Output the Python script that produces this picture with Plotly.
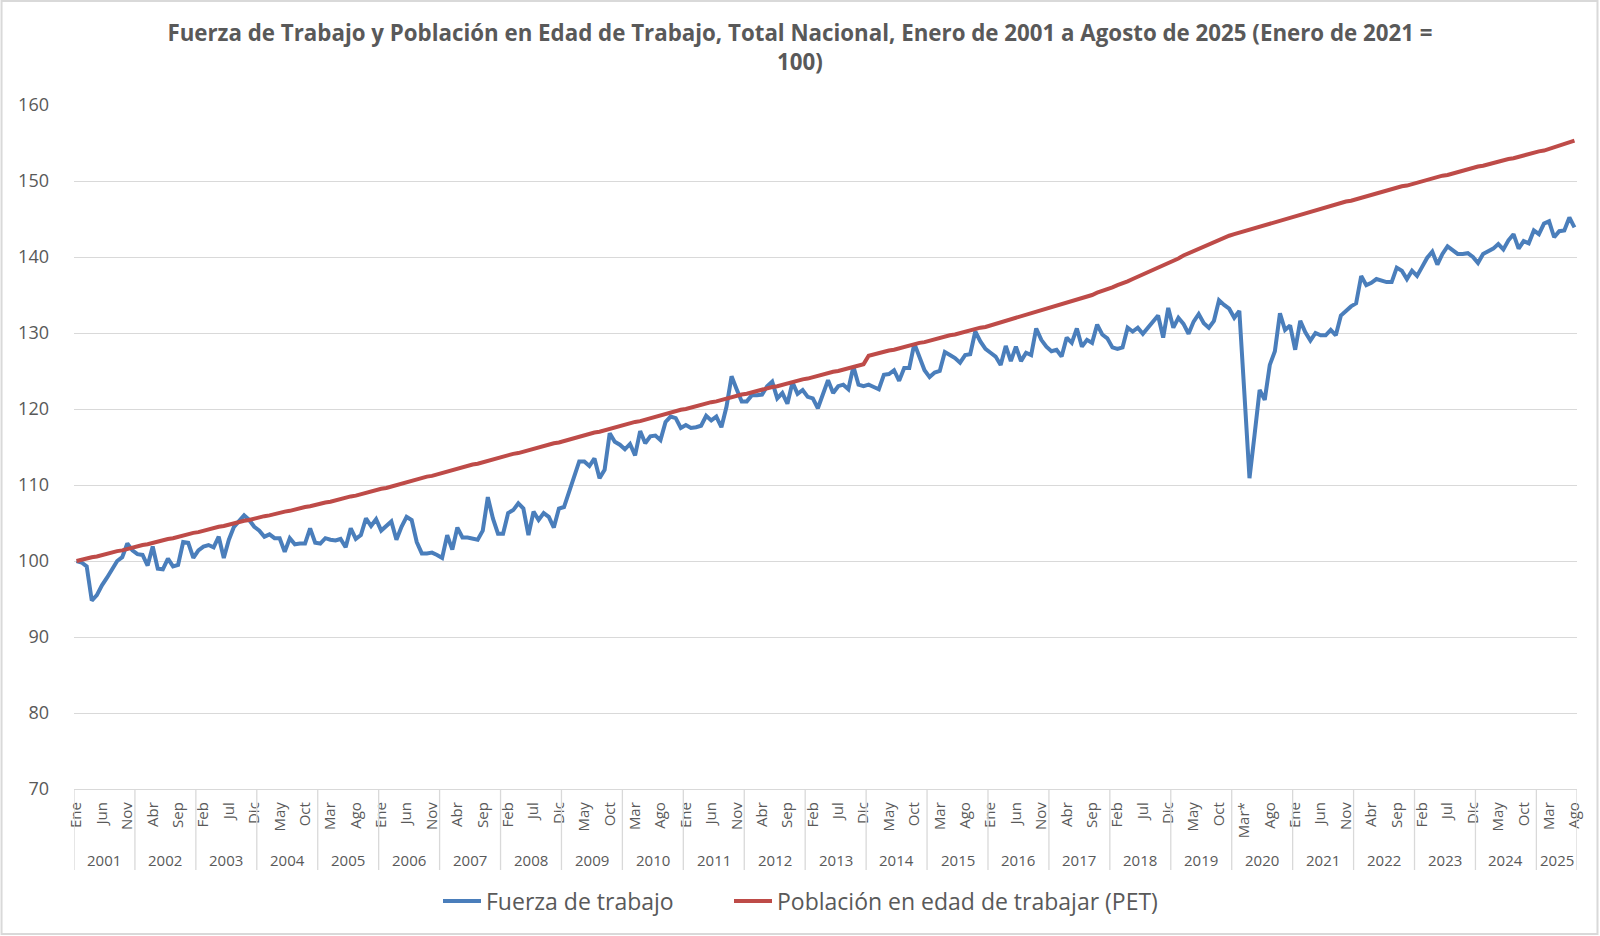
import plotly.graph_objects as go

# ---------------- DATA ----------------
years = list(range(2001, 2026))
tick_labels = (["Ene", "Jun", "Nov", "Abr", "Sep", "Feb", "Jul", "Dic", "May", "Oct", "Mar", "Ago"] * 5)
tick_labels[46] = "Mar*"  # marzo 2020

fuerza_trabajo = [
    # 2001
    100.0, 99.8, 99.3, 94.8, 95.5, 96.8, 97.8, 98.8, 100.0, 100.5, 102.3, 101.4,
    # 2002
    100.9, 100.8, 99.4, 101.9, 99.0, 98.9, 100.3, 99.3, 99.5, 102.5, 102.4, 100.4,
    # 2003
    101.4, 101.9, 102.1, 101.8, 103.2, 100.4, 102.8, 104.5, 105.3, 106.0, 105.4, 104.5,
    # 2004
    104.0, 103.2, 103.5, 103.0, 103.0, 101.2, 103.0, 102.2, 102.3, 102.3, 104.3, 102.4,
    # 2005
    102.3, 103.0, 102.8, 102.7, 102.9, 101.8, 104.3, 102.9, 103.4, 105.6, 104.6, 105.5,
    # 2006
    104.0, 104.6, 105.2, 102.8, 104.5, 105.8, 105.4, 102.5, 101.0, 101.0, 101.1, 100.8,
    # 2007
    100.4, 103.4, 101.5, 104.4, 103.1, 103.1, 103.0, 102.8, 104.0, 108.4, 105.6, 103.6,
    # 2008
    103.6, 106.3, 106.7, 107.6, 106.9, 103.4, 106.5, 105.4, 106.3, 105.8, 104.4, 106.9,
    # 2009
    107.1, 109.1, 110.9, 113.1, 113.1, 112.5, 113.5, 110.9, 112.0, 116.8, 115.7, 115.3,
    # 2010
    114.7, 115.4, 113.9, 117.1, 115.5, 116.4, 116.5, 115.9, 118.3, 119.0, 118.8, 117.5,
    # 2011
    117.9, 117.5, 117.6, 117.8, 119.1, 118.5, 119.0, 117.6, 120.3, 124.3, 122.6, 121.0,
    # 2012
    121.0, 121.8, 121.8, 121.9, 123.0, 123.6, 121.4, 122.1, 120.7, 123.5, 122.0, 122.5,
    # 2013
    121.6, 121.4, 120.1, 122.1, 123.8, 122.1, 123.0, 123.2, 122.6, 125.6, 123.2, 123.0,
    # 2014
    123.2, 122.9, 122.6, 124.5, 124.6, 125.1, 123.7, 125.4, 125.4, 128.6, 126.7, 125.1,
    # 2015
    124.2, 124.8, 125.0, 127.5, 127.1, 126.7, 126.1, 127.1, 127.2, 130.2, 128.9, 127.9,
    # 2016
    127.4, 126.9, 125.8, 128.3, 126.3, 128.2, 126.3, 127.4, 127.1, 130.6, 129.1, 128.2,
    # 2017
    127.6, 127.8, 126.9, 129.4, 128.7, 130.6, 128.2, 129.1, 128.7, 131.1, 129.8, 129.3,
    # 2018
    128.1, 127.9, 128.1, 130.7, 130.2, 130.7, 129.9, 130.7, 131.3, 132.3, 129.4, 133.3,
    # 2019
    130.7, 132.0, 131.2, 129.9, 131.5, 132.5, 131.3, 130.7, 131.6, 134.3, 133.7, 133.2,
    # 2020
    132.0, 132.9, 122.0, 110.9, 116.6, 122.5, 121.2, 125.8, 127.6, 132.6, 130.4, 131.0,
    # 2021
    127.8, 131.6, 130.1, 129.0, 130.0, 129.7, 129.7, 130.4, 129.7, 132.3, 132.9, 133.5,
    # 2022
    133.9, 137.5, 136.3, 136.6, 137.1, 136.9, 136.7, 136.7, 138.6, 138.2, 137.1, 138.2,
    # 2023
    137.5, 138.7, 139.9, 140.7, 139.0, 140.4, 141.4, 140.9, 140.4, 140.4, 140.5, 140.0,
    # 2024
    139.2, 140.4, 140.8, 141.1, 141.7, 141.0, 142.2, 143.0, 141.1, 142.1, 141.8, 143.5,
    # 2025
    143.0, 144.4, 144.7, 142.6, 143.4, 143.5, 145.2, 143.9,
]

pet = [
    # 2001
    100.0, 100.2, 100.3, 100.5, 100.6, 100.8, 101.0, 101.1, 101.3, 101.4, 101.6, 101.8,
    # 2002
    101.9, 102.1, 102.2, 102.4, 102.6, 102.7, 102.9, 103.0, 103.2, 103.4, 103.5, 103.7,
    # 2003
    103.8, 104.0, 104.2, 104.3, 104.5, 104.6, 104.8, 105.0, 105.1, 105.3, 105.4, 105.6,
    # 2004
    105.7, 105.9, 106.0, 106.2, 106.3, 106.5, 106.6, 106.8, 106.9, 107.1, 107.2, 107.4,
    # 2005
    107.5, 107.7, 107.8, 108.0, 108.1, 108.3, 108.5, 108.6, 108.8, 109.0, 109.1, 109.3,
    # 2006
    109.5, 109.6, 109.8, 110.0, 110.2, 110.4, 110.5, 110.7, 110.9, 111.1, 111.2, 111.4,
    # 2007
    111.6, 111.8, 112.0, 112.1, 112.3, 112.5, 112.7, 112.8, 113.0, 113.2, 113.4, 113.5,
    # 2008
    113.7, 113.9, 114.1, 114.2, 114.4, 114.6, 114.8, 114.9, 115.1, 115.3, 115.5, 115.6,
    # 2009
    115.8, 116.0, 116.2, 116.3, 116.5, 116.7, 116.9, 117.0, 117.2, 117.4, 117.6, 117.7,
    # 2010
    117.9, 118.1, 118.3, 118.4, 118.6, 118.8, 119.0, 119.1, 119.3, 119.5, 119.7, 119.9,
    # 2011
    120.0, 120.2, 120.4, 120.5, 120.7, 120.9, 121.0, 121.2, 121.4, 121.5, 121.7, 121.9,
    # 2012
    122.0, 122.2, 122.4, 122.5, 122.7, 122.9, 123.0, 123.2, 123.4, 123.5, 123.7, 123.9,
    # 2013
    124.0, 124.2, 124.4, 124.5, 124.7, 124.9, 125.0, 125.2, 125.4, 125.5, 125.7, 125.9,
    # 2014
    127.0, 127.2, 127.3, 127.5, 127.7, 127.8, 128.0, 128.2, 128.3, 128.5, 128.7, 128.8,
    # 2015
    129.0, 129.2, 129.3, 129.5, 129.7, 129.8, 130.0, 130.2, 130.3, 130.5, 130.7, 130.8,
    # 2016
    131.0, 131.2, 131.4, 131.6, 131.8, 132.0, 132.2, 132.4, 132.5, 132.7, 132.9, 133.1,
    # 2017
    133.3, 133.5, 133.7, 133.9, 134.1, 134.3, 134.6, 134.8, 135.0, 135.3, 135.5, 135.8,
    # 2018
    136.0, 136.3, 136.5, 136.8, 137.1, 137.4, 137.7, 138.0, 138.2, 138.5, 138.8, 139.1,
    # 2019
    139.5, 139.8, 140.2, 140.5, 140.8, 141.1, 141.4, 141.7, 142.0, 142.3, 142.6, 142.8,
    # 2020
    143.0, 143.2, 143.4, 143.6, 143.8, 144.0, 144.2, 144.4, 144.6, 144.8, 145.0, 145.2,
    # 2021
    145.4, 145.6, 145.8, 146.0, 146.2, 146.4, 146.5, 146.7, 146.9, 147.1, 147.3, 147.4,
    # 2022
    147.6, 147.8, 148.0, 148.2, 148.4, 148.5, 148.7, 148.9, 149.1, 149.3, 149.4, 149.6,
    # 2023
    149.8, 150.0, 150.1, 150.3, 150.5, 150.7, 150.8, 151.0, 151.2, 151.3, 151.5, 151.7,
    # 2024
    151.9, 152.0, 152.2, 152.4, 152.5, 152.7, 152.9, 153.0, 153.2, 153.4, 153.5, 153.7,
    # 2025
    153.9, 154.0, 154.2, 154.4, 154.6, 154.8, 155.0, 155.3,
]

title_text = ("Fuerza de Trabajo y Población en Edad de Trabajo, Total Nacional, Enero de 2001 a Agosto de 2025 (Enero de 2021 ="
              "<br>100)")
series_names = ["Fuerza de trabajo", "Población en edad de trabajar (PET)"]

# ---------------- STYLE ----------------
FONT = "Open Sans"
GRAY_TXT = "#595959"
GRID = "#D9D9D9"
BLUE = "#4A7EBB"
RED = "#BE4B48"

n = len(fuerza_trabajo)
x = list(range(n))

fig = go.Figure()
fig.add_trace(go.Scatter(x=x, y=fuerza_trabajo, mode="lines", name=series_names[0],
                         line=dict(color=BLUE, width=4), legend="legend"))
fig.add_trace(go.Scatter(x=x, y=pet, mode="lines", name=series_names[1],
                         line=dict(color=RED, width=4), legend="legend2"))

W, H = 1600, 936
ml, mr, mt, mb = 73.5, 22.5, 105, 147
plot_h = H - mt - mb

# year dividers and year labels
shapes = []
annotations = []
div_bottom = -(870 - (H - mb)) / plot_h
for k, yr in enumerate(years):
    start = 12 * k - 0.5
    end = min(12 * k + 11.5, n - 0.5)
    shapes.append(dict(type="line", xref="x", yref="paper", x0=start, x1=start,
                       y0=0, y1=div_bottom, line=dict(color=GRID, width=1.3)))
    annotations.append(dict(x=(start + end) / 2, xref="x", y=-(860 - (H - mb)) / plot_h,
                            yref="paper", text=str(yr), showarrow=False,
                            font=dict(family=FONT, size=15, color=GRAY_TXT),
                            xanchor="center", yanchor="middle"))
shapes.append(dict(type="line", xref="x", yref="paper", x0=n - 0.5, x1=n - 0.5,
                   y0=0, y1=div_bottom, line=dict(color=GRID, width=1.3)))

# outer chart border
shapes.append(dict(type="rect", xref="paper", yref="paper",
                   x0=(1 - ml) / (W - ml - mr), x1=(W - 2 - ml) / (W - ml - mr),
                   y0=(H - mb - (H - 2)) / plot_h, y1=(H - mb - 1) / plot_h,
                   line=dict(color=GRID, width=2), layer="below"))

legend_common = dict(orientation="h", xref="container", xanchor="left",
                     y=1 - 901 / H, yref="container", yanchor="middle",
                     font=dict(family=FONT, size=23, color=GRAY_TXT),
                     itemwidth=38, bgcolor="rgba(0,0,0,0)")

fig.update_layout(
    width=W, height=H,
    margin=dict(l=ml, r=mr, t=mt, b=mb, pad=0),
    paper_bgcolor="white", plot_bgcolor="white",
    font=dict(family=FONT, color=GRAY_TXT),
    title=dict(text=title_text, x=0.5, xref="container", xanchor="center",
               y=1 - 41 / H, yref="container", yanchor="top",
               font=dict(family=FONT, size=22.3, color=GRAY_TXT, weight="bold")),
    xaxis=dict(range=[-0.5, n - 0.5], tickmode="array",
               tickvals=list(range(0, n, 5)), ticktext=tick_labels[:len(range(0, n, 5))],
               tickangle=-90, tickfont=dict(family=FONT, size=15, color=GRAY_TXT),
               showgrid=False, zeroline=False, showline=True, linecolor=GRID, linewidth=1.3,
               ticks="", ticklabelstandoff=6, fixedrange=True),
    yaxis=dict(range=[70, 160], dtick=10, tick0=70, showgrid=True, gridcolor=GRID, gridwidth=1.3,
               zeroline=False, showline=False, ticks="",
               tickfont=dict(family=FONT, size=18, color=GRAY_TXT), ticklabelstandoff=24,
               fixedrange=True),
    legend=dict(x=438 / W, **legend_common),
    legend2=dict(x=729 / W, **legend_common),
    shapes=shapes,
    annotations=annotations,
    showlegend=True,
)

fig.write_html("out.html", config={"displayModeBar": False},
               post_script="document.body.style.margin='0px';")
